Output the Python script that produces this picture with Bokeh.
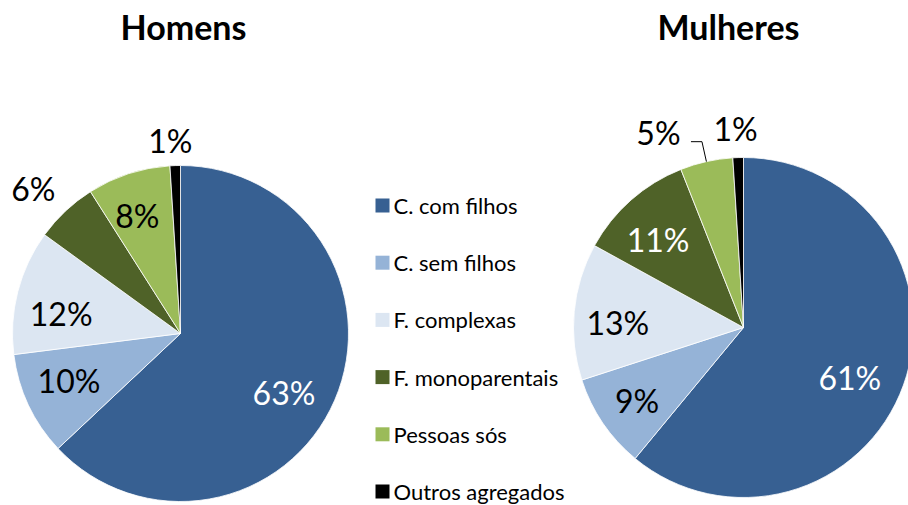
import math
from bokeh.plotting import figure
from bokeh.models import Range1d, ColumnDataSource
from bokeh.core.properties import value
from bokeh.embed import file_html
from bokeh.resources import INLINE

# ---- data ----
categories = ["C. com filhos", "C. sem filhos", "F. complexas",
              "F. monoparentais", "Pessoas sós", "Outros agregados"]
homens = [63, 10, 12, 6, 8, 1]
mulheres = [61, 9, 13, 11, 5, 1]
titles = ["Homens", "Mulheres"]

# ---- style / layout ----
colors = ["#376092", "#95B3D7", "#DCE6F2", "#4F6228", "#9BBB59", "#000000"]
FONT = "Lato"
W, H = 908, 505

def Y(ref_y):
    return H - ref_y

p = figure(width=W, height=H, output_backend="svg", toolbar_location=None,
           x_range=Range1d(0, W), y_range=Range1d(0, H),
           min_border=0, outline_line_color=None)
p.axis.visible = False
p.grid.visible = False
p.background_fill_color = "white"
p.border_fill_color = "white"

pies = [
    dict(vals=homens, cx=180, cy=Y(333), r=168, title_x=183,
         fracs=[0.71, 0.72, 0.72, 1.23, 0.75, 1.15],
         dang=[6.4, 2.4, -4.9, -2.2, -2.0, -1.2],
         lcol=["white", "black", "black", "black", "black", "black"],
         leader=[False] * 6),
    dict(vals=mulheres, cx=743, cy=Y(327), r=170, title_x=728,
         fracs=[0.69, 0.76, 0.74, 0.72, 1.25, 1.17],
         dang=[5.2, -0.4, -3.1, -2.9, -11.0, -0.5],
         lcol=["white", "black", "black", "white", "black", "black"],
         leader=[False, False, False, False, True, False]),
]

for pie, title in zip(pies, titles):
    vals = pie["vals"]
    total = float(sum(vals))
    starts, ends, mids = [], [], []
    cum = 0.0
    for v in vals:
        s = cum / total
        cum += v
        e = cum / total
        starts.append(math.pi / 2 - 2 * math.pi * s)
        ends.append(math.pi / 2 - 2 * math.pi * e)
        mids.append(360.0 * (s + e) / 2)
    src = ColumnDataSource(dict(start=starts, end=ends, color=colors,
                                x=[pie["cx"]] * len(vals), y=[pie["cy"]] * len(vals)))
    p.wedge(x="x", y="y", radius=pie["r"], start_angle="start", end_angle="end",
            direction="clock", fill_color="color", line_color="white",
            line_width=0.8, source=src)

    lx, ly, lt = [], [], []
    for i, v in enumerate(vals):
        th = math.radians(mids[i] + pie["dang"][i])
        rr = pie["r"] * pie["fracs"][i]
        lx.append(pie["cx"] + rr * math.sin(th))
        ly.append(pie["cy"] + rr * math.cos(th))
        lt.append(f"{v}%")
        if pie["leader"][i]:
            thm = math.radians(mids[i])
            ex = pie["cx"] + pie["r"] * math.sin(thm)
            ey = pie["cy"] + pie["r"] * math.cos(thm)
            bx = pie["cx"] + pie["r"] * 1.12 * math.sin(thm)
            by = pie["cy"] + pie["r"] * 1.12 * math.cos(thm)
            p.line([ex, bx, bx - 11], [ey, by, by], line_color="black", line_width=1)
    p.text(x=lx, y=ly, text=lt, text_color=pie["lcol"], text_align="center",
           text_baseline="middle", text_font=value(FONT), text_font_size="32px")

    p.text(x=[pie["title_x"]], y=[Y(26)], text=[title], text_color="black",
           text_align="center", text_baseline="middle", text_font=value(FONT),
           text_font_size="34px", text_font_style="bold")

# ---- legend ----
leg_y = [Y(205 + 57.2 * i) for i in range(len(categories))]
p.rect(x=[382] * len(categories), y=leg_y, width=14, height=14,
       width_units="screen", height_units="screen",
       fill_color=colors, line_color=None)
p.text(x=[393] * len(categories), y=leg_y, text=categories, text_color="black",
       text_align="left", text_baseline="middle", text_font=value(FONT),
       text_font_size="22px")

open("out.html", "w").write(file_html(p, INLINE))
